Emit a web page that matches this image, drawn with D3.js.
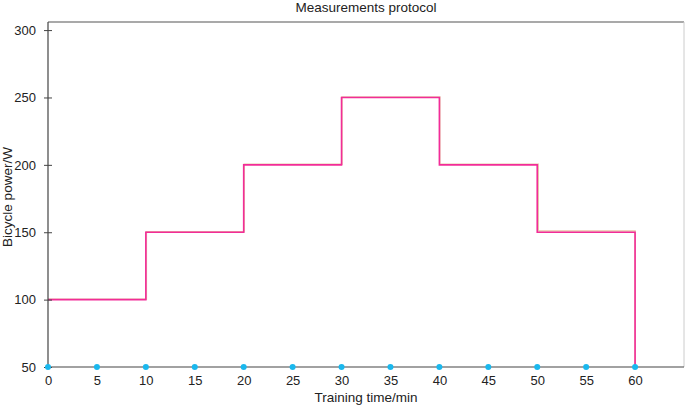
<!DOCTYPE html>
<html><head><meta charset="utf-8">
<script src="https://cdn.jsdelivr.net/npm/d3@7"></script>
<style>body{margin:0;background:#fff}svg text{font-family:"Liberation Sans",Arial,sans-serif;fill:#222}</style>
</head><body><svg id="c" width="685" height="406"></svg>
<script>
const stepTimes = [0, 10, 20, 30, 40, 50, 60];
const powerA = [100, 150, 200, 250, 200, 150, 50];
const stepTimesB = [0, 10.05, 20.05, 30.05, 40.05, 50.1, 60];
const powerB = [100.3, 150.4, 200.4, 250.3, 200.4, 151, 50];
const xTicks = [0, 5, 10, 15, 20, 25, 30, 35, 40, 45, 50, 55, 60];
const yTicks = [50, 100, 150, 200, 250, 300];

const svg = d3.select("#c");
const m = {l:48, r:684, t:22, b:367};
const x = d3.scaleLinear().domain([0, 65]).range([m.l, m.r]);
const y = d3.scaleLinear().domain([50, 306]).range([m.b, m.t]);

// frame
svg.append("line").attr("x1", m.l).attr("x2", m.r).attr("y1", m.t).attr("y2", m.t).attr("stroke", "#555").attr("stroke-width", 1.2);
svg.append("line").attr("x1", m.r).attr("x2", m.r).attr("y1", m.t).attr("y2", m.b).attr("stroke", "#ccc").attr("stroke-width", 1);

function stepData(ts, ps){
  const d = [];
  for (let i=0;i<ts.length;i++){
    if (i>0) d.push([ts[i], ps[i-1]]);
    d.push([ts[i], ps[i]]);
  }
  return d;
}
const line = d3.line().x(d=>x(d[0])).y(d=>y(d[1]));
svg.append("path").datum(stepData(stepTimesB, powerB)).attr("d", line)
  .attr("fill","none").attr("stroke","#dcae84").attr("stroke-width",1.5).attr("opacity",0.7);
svg.append("path").datum(stepData(stepTimes, powerA)).attr("d", line)
  .attr("fill","none").attr("stroke","#f22c98").attr("stroke-width",1.6);

// axes
const yAxis = svg.append("g").attr("transform",`translate(${m.l},0)`)
  .call(d3.axisLeft(y).tickValues(yTicks).tickSize(4).tickPadding(8).tickSizeOuter(0));
yAxis.select(".domain").remove();
yAxis.selectAll(".tick line").attr("x1", 4).attr("x2", -4).attr("stroke","#444");
yAxis.selectAll("text").attr("font-size", 13);
svg.append("line").attr("x1", m.l).attr("x2", m.l).attr("y1", m.t).attr("y2", m.b).attr("stroke","#444").attr("stroke-width",1.2);

const xAxis = svg.append("g").attr("transform",`translate(0,${m.b})`)
  .call(d3.axisBottom(x).tickValues(xTicks).tickSize(0).tickPadding(9).tickSizeOuter(0));
xAxis.select(".domain").remove();
xAxis.selectAll("text").attr("font-size", 13);
svg.append("line").attr("x1", m.l).attr("x2", m.r).attr("y1", m.b).attr("y2", m.b).attr("stroke","#444").attr("stroke-width",1.2);

svg.append("g").selectAll("circle").data(xTicks).join("circle")
  .attr("cx", d=>x(d)).attr("cy", y(50)).attr("r", 3).attr("fill","#1ab8ee");

svg.append("text").attr("x", 366).attr("y", 12).attr("text-anchor","middle").attr("font-size",13.5).text("Measurements protocol");
svg.append("text").attr("x", 366).attr("y", 402).attr("text-anchor","middle").attr("font-size",13.5).text("Training time/min");
svg.append("text").attr("transform","translate(12,197) rotate(-90)").attr("text-anchor","middle").attr("font-size",13.5).text("Bicycle power/W");
</script></body></html>
